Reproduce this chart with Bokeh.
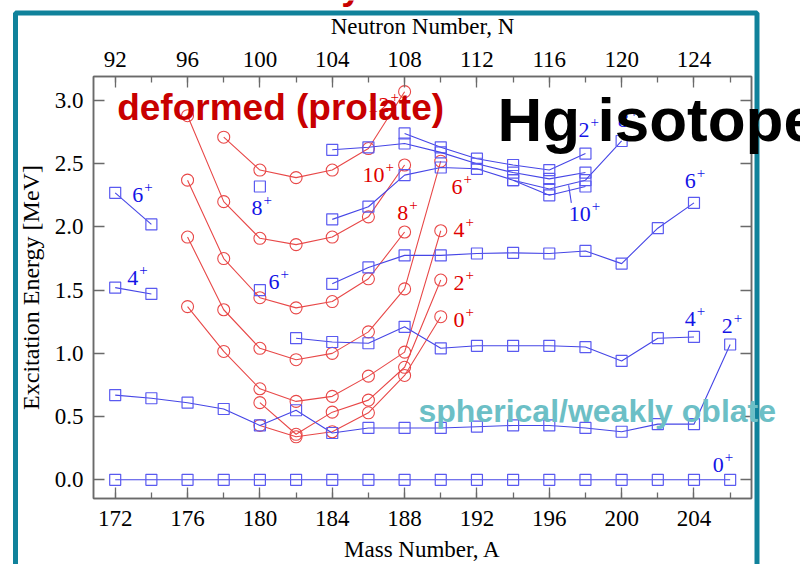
from bokeh.plotting import figure
from bokeh.models import (Range1d, LinearAxis, SingleIntervalTicker, PrintfTickFormatter,
                          ColumnDataSource, Label, BoxAnnotation)
from bokeh.core.properties import value
from bokeh.embed import file_html
from bokeh.resources import INLINE

# ---------------- data ----------------
mass_all = [172, 174, 176, 178, 180, 182, 184, 186, 188, 190, 192, 194, 196, 198, 200, 202, 204, 206]
sph_0_E = [0.0, 0.0, 0.0, 0.0, 0.0, 0.0, 0.0, 0.0, 0.0, 0.0, 0.0, 0.0, 0.0, 0.0, 0.0, 0.0, 0.0, 0.0]
sph_2_E = [0.67, 0.645, 0.61, 0.56, 0.43, 0.55, 0.37, 0.41, 0.41, 0.41, 0.42, 0.43, 0.43, 0.41, 0.38, 0.44, 0.44, 1.07]

sph_4a_A = [172, 174]
sph_4a_E = [1.52, 1.47]
sph_4b_A = [182, 184, 186, 188, 190, 192, 194, 196, 198, 200, 202, 204]
sph_4b_E = [1.12, 1.09, 1.08, 1.21, 1.04, 1.06, 1.06, 1.06, 1.05, 0.94, 1.12, 1.13]

sph_6a_A = [172, 174]
sph_6a_E = [2.27, 2.02]
sph_6b_A = [184, 186, 188, 190, 192, 194, 196, 198, 200, 202, 204]
sph_6b_E = [1.55, 1.68, 1.775, 1.775, 1.79, 1.795, 1.79, 1.81, 1.71, 1.99, 2.19]

sph_single_A = [180, 180]
sph_single_E = [1.50, 2.32]

up_2_A = [188, 190, 192, 194, 196, 198]
up_2_E = [2.74, 2.63, 2.54, 2.49, 2.45, 2.58]
up_b_A = [184, 186, 188, 190, 192, 194, 196, 198]
up_b_E = [2.61, 2.63, 2.66, 2.59, 2.50, 2.43, 2.38, 2.43]
up_8_A = [184, 186, 188, 190, 192, 194, 196, 198, 200]
up_8_E = [2.06, 2.16, 2.41, 2.47, 2.46, 2.37, 2.30, 2.37, 2.68]
up_10_A = [194, 196, 198]
up_10_E = [2.37, 2.25, 2.32]

def_12_A = [178, 180, 182, 184, 186, 188]
def_12_E = [2.71, 2.45, 2.39, 2.45, 2.62, 3.07]
def_10_A = [176, 178, 180, 182, 184, 186, 188]
def_10_E = [2.88, 2.20, 1.91, 1.86, 1.92, 2.08, 2.49]
def_8_A = [176, 178, 180, 182, 184, 186, 188]
def_8_E = [2.37, 1.75, 1.44, 1.36, 1.41, 1.59, 1.96]
def_6_A = [176, 178, 180, 182, 184, 186, 188, 190]
def_6_E = [1.92, 1.345, 1.04, 0.95, 1.00, 1.17, 1.51, 2.52]
def_4_A = [176, 178, 180, 182, 184, 186, 188, 190]
def_4_E = [1.37, 1.015, 0.72, 0.62, 0.66, 0.82, 1.01, 1.97]
def_2_A = [180, 182, 184, 186, 188, 190]
def_2_E = [0.61, 0.36, 0.535, 0.63, 0.89, 1.58]
def_0_A = [180, 182, 184, 186, 188, 190]
def_0_E = [0.43, 0.34, 0.38, 0.53, 0.825, 1.29]

blue_lbl_text = ["6+", "4+", "8+", "6+", "10+", "2+", "8+", "6+", "4+", "2+", "0+"]
blue_lbl_A = [172.94, 172.66, 179.53, 180.47, 197.07, 197.62, 199.78, 203.49, 203.49, 205.54, 205.04]
blue_lbl_E = [2.19, 1.53, 2.09, 1.50, 2.04, 2.70, 2.78, 2.30, 1.21, 1.15, 0.05]

red_lbl_text = ["12+", "10+", "8+", "6+", "4+", "2+", "0+"]
red_lbl_A = [185.95, 185.67, 187.6, 190.6, 190.7, 190.7, 190.7]
red_lbl_E = [2.90, 2.35, 2.05, 2.25, 1.91, 1.49, 1.20]

pointer_A = [197.07, 197.22]
pointer_E = [2.33, 2.19]

x_ticks_interval = 4
y_ticks_interval = 0.5
N_offset = 80  # N = A - Z (Z = 80 for Hg)

# ---------------- styling ----------------
BLUE_LINE = "#4646e6"
BLUE_MARK = "#5a5af0"
BLUE_TEXT = "#1414e6"
RED_LINE = "#e84848"
RED_TEXT = "#e00000"
SERIF = "Liberation Serif"
SANS = "Liberation Sans"
LABEL_FS = 22
BASE_SHIFT = 0.36  # em, baseline correction for the svg text renderer

W, H = 800, 564
BL, BR, BT, BB = 93, 49, 76, 66
x0, x1 = 170.8, 207.18
y0, y1 = -0.148, 3.19
px_per_A = (W - BL - BR) / (x1 - x0)
px_per_E = (H - BT - BB) / (y1 - y0)

p = figure(width=W, height=H, output_backend="svg", toolbar_location=None,
           x_range=Range1d(x0, x1), y_range=Range1d(y0, y1),
           x_axis_location=None, y_axis_location=None,
           min_border_left=BL, min_border_right=BR, min_border_top=BT, min_border_bottom=BB)
p.xgrid.visible = False
p.ygrid.visible = False
p.outline_line_color = "#6a6a6a"
p.outline_line_width = 1.5
p.background_fill_color = "white"
p.border_fill_color = "white"

p.extra_x_ranges = {"N": Range1d(x0 - N_offset, x1 - N_offset)}


def style_axis(ax, labels=True):
    ax.axis_line_color = "#6a6a6a"
    ax.axis_line_width = 1.5
    ax.major_tick_line_color = "#6a6a6a"
    ax.minor_tick_line_color = "#6a6a6a"
    ax.major_tick_line_width = 1.3
    ax.minor_tick_line_width = 1.3
    ax.major_tick_in = 11
    ax.major_tick_out = 0
    ax.minor_tick_in = 6
    ax.minor_tick_out = 0
    ax.major_label_text_font = SERIF
    ax.major_label_text_font_size = "23px"
    ax.major_label_text_color = "black"
    ax.axis_label_text_font = SERIF
    ax.axis_label_text_font_style = "normal"
    ax.axis_label_text_color = "black"
    if not labels:
        ax.major_label_text_font_size = "0px"
        ax.major_label_text_alpha = 0


xb = LinearAxis(ticker=SingleIntervalTicker(interval=x_ticks_interval, num_minor_ticks=2),
                axis_label="Mass Number, A")
style_axis(xb)
xb.axis_label_text_font_size = "23px"
xb.major_label_standoff = 12
xb.axis_label_standoff = 8
p.add_layout(xb, "below")

xt = LinearAxis(x_range_name="N", ticker=SingleIntervalTicker(interval=x_ticks_interval, num_minor_ticks=2),
                axis_label="Neutron Number, N")
style_axis(xt)
xt.axis_label_text_font_size = "23px"
xt.major_label_standoff = 10
xt.axis_label_standoff = 10
p.add_layout(xt, "above")

yl = LinearAxis(ticker=SingleIntervalTicker(interval=y_ticks_interval, num_minor_ticks=0),
                formatter=PrintfTickFormatter(format="%.1f"),
                axis_label="Excitation Energy [MeV]")
style_axis(yl)
yl.axis_label_text_font_size = "24px"
yl.major_label_standoff = 10
yl.axis_label_standoff = 8
p.add_layout(yl, "left")

yr = LinearAxis(ticker=SingleIntervalTicker(interval=y_ticks_interval, num_minor_ticks=0))
style_axis(yr, labels=False)
p.add_layout(yr, "right")

# ---------------- deformed (red) bands ----------------
red_series = [(def_12_A, def_12_E), (def_10_A, def_10_E), (def_8_A, def_8_E), (def_6_A, def_6_E),
              (def_4_A, def_4_E), (def_2_A, def_2_E), (def_0_A, def_0_E)]
for A, E in red_series:
    p.line(A, E, line_color=RED_LINE, line_width=1.1)
    p.scatter(A, E, marker="circle", size=12, fill_color=None, line_color=RED_LINE, line_width=1.1)

# ---------------- spherical (blue) bands ----------------
blue_series = [(mass_all, sph_0_E), (mass_all, sph_2_E), (sph_4a_A, sph_4a_E), (sph_4b_A, sph_4b_E),
               (sph_6a_A, sph_6a_E), (sph_6b_A, sph_6b_E), (up_2_A, up_2_E), (up_b_A, up_b_E),
               (up_8_A, up_8_E), (up_10_A, up_10_E)]
for A, E in blue_series:
    p.line(A, E, line_color=BLUE_LINE, line_width=1.1)
    p.scatter(A, E, marker="square", size=11, fill_color=None, line_color=BLUE_MARK, line_width=1.2)
p.scatter(sph_single_A, sph_single_E, marker="square", size=11, fill_color=None,
          line_color=BLUE_MARK, line_width=1.2)
p.line(pointer_A, pointer_E, line_color=BLUE_LINE, line_width=1.1)


def add_labels(texts, xs, ys, color):
    digits = [t.rstrip("+") for t in texts]
    src = ColumnDataSource(dict(x=xs, y=ys, t=digits, plus=["+" for _ in texts],
                                dx=[len(d) * LABEL_FS * 0.5 + 1 for d in digits]))
    shift = -round(BASE_SHIFT * LABEL_FS)
    p.text(x="x", y="y", text="t", source=src, y_offset=shift, text_font=value(SERIF),
           text_font_size=f"{LABEL_FS}px", text_color=color, text_align="left",
           text_baseline="alphabetic")
    p.text(x="x", y="y", text="plus", source=src, x_offset="dx", y_offset=shift - 8,
           text_font=value(SERIF), text_font_size="15px", text_color=color,
           text_align="left", text_baseline="alphabetic")


add_labels(blue_lbl_text, blue_lbl_A, blue_lbl_E, BLUE_TEXT)
add_labels(red_lbl_text, red_lbl_A, red_lbl_E, RED_TEXT)

# ---------------- slide overlay (same data mapping, frame = whole canvas) ----------------
q = figure(width=W, height=H, output_backend="svg", toolbar_location=None,
           x_range=Range1d(x0 - BL / px_per_A, x1 + BR / px_per_A),
           y_range=Range1d(y0 - BB / px_per_E, y1 + BT / px_per_E),
           x_axis_location=None, y_axis_location=None,
           min_border=0, min_border_left=0, min_border_right=0, min_border_top=0, min_border_bottom=0)
q.xgrid.visible = False
q.ygrid.visible = False
q.outline_line_color = None
q.background_fill_color = None
q.background_fill_alpha = 0
q.border_fill_color = None
q.border_fill_alpha = 0
q.styles = {"position": "absolute", "left": "0px", "top": "0px"}

frame_box = BoxAnnotation(left=15, right=756.5, top=12.5, bottom=700,
                          left_units="canvas", right_units="canvas",
                          top_units="canvas", bottom_units="canvas",
                          fill_alpha=0, fill_color=None, line_color="#10829b",
                          line_alpha=1.0, line_width=5)
q.add_layout(frame_box)


def big_label(x, y_base, text, color, size):
    q.add_layout(Label(x=x, y=y_base + BASE_SHIFT * size / px_per_E, text=text, text_color=color,
                       text_font=SANS, text_font_style="bold", text_font_size=f"{size}px",
                       text_baseline="alphabetic"))


big_label(184.5, 3.80, "y", "#c80000", 37)
big_label(172.11, 2.84, "deformed (prolate)", "#c80000", 37)
big_label(188.77, 0.453, "spherical/weakly oblate", "#6cbfc6", 32)
big_label(193.14, 2.675, "Hg isotopes", "black", 62)

open("out.html", "w").write(file_html([p, q], INLINE))
